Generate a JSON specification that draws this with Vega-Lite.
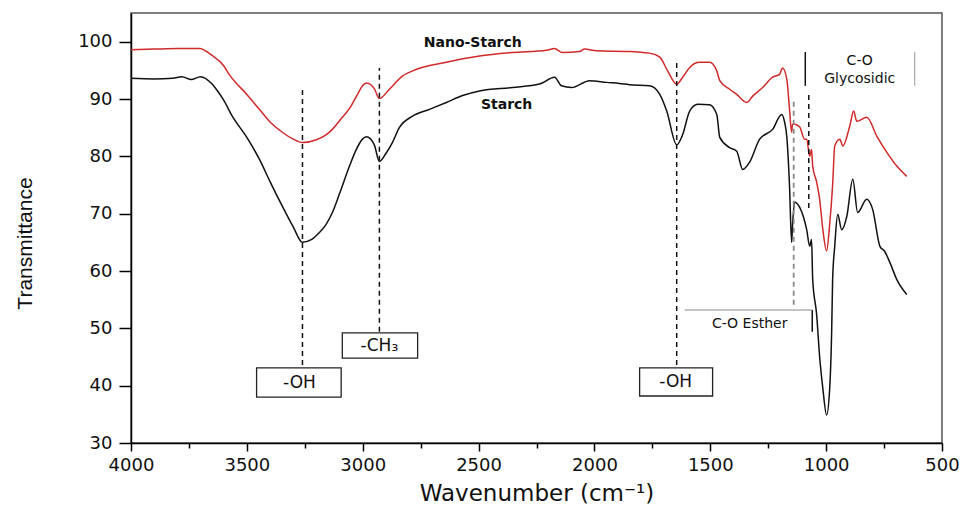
{
  "$schema": "https://vega.github.io/schema/vega-lite/v6.json",
  "width": 811,
  "height": 430,
  "autosize": "none",
  "padding": {"left": 131, "top": 13, "right": 22, "bottom": 66},
  "background": "white",
  "config": {
    "view": {"stroke": "#555", "strokeWidth": 1.5},
    "font": "DejaVu Sans"
  },
  "datasets": {
    "spectra": [
      {"wn": 4000, "t": 93.6, "s": "Starch"}, {"wn": 3900, "t": 93.5, "s": "Starch"}, {"wn": 3820, "t": 93.6, "s": "Starch"},
      {"wn": 3780, "t": 93.9, "s": "Starch"}, {"wn": 3740, "t": 93.4, "s": "Starch"}, {"wn": 3700, "t": 93.9, "s": "Starch"},
      {"wn": 3650, "t": 92.6, "s": "Starch"}, {"wn": 3632, "t": 91.7, "s": "Starch"}, {"wn": 3600, "t": 89.8, "s": "Starch"},
      {"wn": 3563, "t": 87.0, "s": "Starch"}, {"wn": 3500, "t": 83.3, "s": "Starch"},
      {"wn": 3446, "t": 79.5, "s": "Starch"}, {"wn": 3400, "t": 75.6, "s": "Starch"}, {"wn": 3347, "t": 71.3, "s": "Starch"}, {"wn": 3300, "t": 67.7, "s": "Starch"},
      {"wn": 3260, "t": 65.0, "s": "Starch"}, {"wn": 3220, "t": 65.5, "s": "Starch"}, {"wn": 3187, "t": 66.7, "s": "Starch"}, {"wn": 3160, "t": 68.0, "s": "Starch"},
      {"wn": 3131, "t": 70.2, "s": "Starch"}, {"wn": 3100, "t": 73.5, "s": "Starch"},
      {"wn": 3057, "t": 78.3, "s": "Starch"}, {"wn": 3030, "t": 81.0, "s": "Starch"}, {"wn": 3001, "t": 83.0, "s": "Starch"}, {"wn": 2984, "t": 83.4, "s": "Starch"},
      {"wn": 2950, "t": 82.0, "s": "Starch"}, {"wn": 2928, "t": 79.1, "s": "Starch"}, {"wn": 2900, "t": 80.5, "s": "Starch"},
      {"wn": 2872, "t": 82.4, "s": "Starch"}, {"wn": 2842, "t": 85.0, "s": "Starch"}, {"wn": 2785, "t": 87.0, "s": "Starch"},
      {"wn": 2712, "t": 88.2, "s": "Starch"}, {"wn": 2639, "t": 89.4, "s": "Starch"}, {"wn": 2569, "t": 90.6, "s": "Starch"},
      {"wn": 2496, "t": 91.4, "s": "Starch"}, {"wn": 2354, "t": 92.0, "s": "Starch"}, {"wn": 2237, "t": 92.6, "s": "Starch"},
      {"wn": 2172, "t": 93.8, "s": "Starch"}, {"wn": 2142, "t": 92.3, "s": "Starch"}, {"wn": 2099, "t": 92.0, "s": "Starch"},
      {"wn": 2021, "t": 93.2, "s": "Starch"}, {"wn": 1948, "t": 92.9, "s": "Starch"}, {"wn": 1892, "t": 92.7, "s": "Starch"},
      {"wn": 1849, "t": 92.5, "s": "Starch"}, {"wn": 1762, "t": 92.3, "s": "Starch"}, {"wn": 1718, "t": 90.8, "s": "Starch"},
      {"wn": 1688, "t": 87.9, "s": "Starch"}, {"wn": 1645, "t": 82.0, "s": "Starch"}, {"wn": 1619, "t": 83.8, "s": "Starch"},
      {"wn": 1589, "t": 87.9, "s": "Starch"}, {"wn": 1554, "t": 89.1, "s": "Starch"}, {"wn": 1503, "t": 89.0, "s": "Starch"},
      {"wn": 1472, "t": 87.3, "s": "Starch"}, {"wn": 1459, "t": 83.3, "s": "Starch"}, {"wn": 1416, "t": 81.5, "s": "Starch"},
      {"wn": 1386, "t": 80.9, "s": "Starch"}, {"wn": 1360, "t": 77.7, "s": "Starch"}, {"wn": 1330, "t": 79.0, "s": "Starch"},
      {"wn": 1287, "t": 83.0, "s": "Starch"}, {"wn": 1231, "t": 84.7, "s": "Starch"}, {"wn": 1192, "t": 87.3, "s": "Starch"},
      {"wn": 1179, "t": 85.9, "s": "Starch"}, {"wn": 1170, "t": 83.5, "s": "Starch"}, {"wn": 1158, "t": 74.8, "s": "Starch"},
      {"wn": 1149, "t": 65.0, "s": "Starch"}, {"wn": 1145, "t": 68.0, "s": "Starch"}, {"wn": 1136, "t": 72.0, "s": "Starch"},
      {"wn": 1114, "t": 71.1, "s": "Starch"}, {"wn": 1084, "t": 67.2, "s": "Starch"}, {"wn": 1071, "t": 64.3, "s": "Starch"},
      {"wn": 1063, "t": 65.5, "s": "Starch"}, {"wn": 1058, "t": 58.5, "s": "Starch"}, {"wn": 1041, "t": 52.4, "s": "Starch"},
      {"wn": 1028, "t": 45.0, "s": "Starch"}, {"wn": 1015, "t": 39.8, "s": "Starch"}, {"wn": 998, "t": 34.9, "s": "Starch"},
      {"wn": 985, "t": 39.3, "s": "Starch"}, {"wn": 976, "t": 49.8, "s": "Starch"}, {"wn": 972, "t": 58.5, "s": "Starch"},
      {"wn": 963, "t": 64.3, "s": "Starch"}, {"wn": 950, "t": 69.9, "s": "Starch"}, {"wn": 933, "t": 67.2, "s": "Starch"},
      {"wn": 911, "t": 69.5, "s": "Starch"}, {"wn": 885, "t": 76.0, "s": "Starch"}, {"wn": 864, "t": 70.2, "s": "Starch"},
      {"wn": 825, "t": 72.5, "s": "Starch"}, {"wn": 799, "t": 70.7, "s": "Starch"}, {"wn": 768, "t": 64.3, "s": "Starch"},
      {"wn": 747, "t": 63.4, "s": "Starch"}, {"wn": 725, "t": 61.5, "s": "Starch"}, {"wn": 695, "t": 58.5, "s": "Starch"},
      {"wn": 652, "t": 55.9, "s": "Starch"},
      {"wn": 4000, "t": 98.6, "s": "Nano-Starch"}, {"wn": 3900, "t": 98.7, "s": "Nano-Starch"}, {"wn": 3800, "t": 98.8, "s": "Nano-Starch"},
      {"wn": 3705, "t": 98.8, "s": "Nano-Starch"}, {"wn": 3650, "t": 97.6, "s": "Nano-Starch"}, {"wn": 3600, "t": 95.8, "s": "Nano-Starch"},
      {"wn": 3575, "t": 94.2, "s": "Nano-Starch"}, {"wn": 3500, "t": 90.8, "s": "Nano-Starch"},
      {"wn": 3446, "t": 88.2, "s": "Nano-Starch"}, {"wn": 3400, "t": 86.0, "s": "Nano-Starch"}, {"wn": 3347, "t": 84.2, "s": "Nano-Starch"},
      {"wn": 3300, "t": 83.0, "s": "Nano-Starch"}, {"wn": 3260, "t": 82.4, "s": "Nano-Starch"},
      {"wn": 3200, "t": 82.9, "s": "Nano-Starch"}, {"wn": 3160, "t": 83.7, "s": "Nano-Starch"}, {"wn": 3131, "t": 84.7, "s": "Nano-Starch"},
      {"wn": 3100, "t": 86.2, "s": "Nano-Starch"}, {"wn": 3050, "t": 88.8, "s": "Nano-Starch"}, {"wn": 3020, "t": 91.0, "s": "Nano-Starch"},
      {"wn": 3001, "t": 92.3, "s": "Nano-Starch"}, {"wn": 2984, "t": 92.8, "s": "Nano-Starch"}, {"wn": 2950, "t": 91.8, "s": "Nano-Starch"},
      {"wn": 2928, "t": 90.1, "s": "Nano-Starch"}, {"wn": 2885, "t": 91.7, "s": "Nano-Starch"}, {"wn": 2829, "t": 94.0, "s": "Nano-Starch"},
      {"wn": 2785, "t": 94.9, "s": "Nano-Starch"}, {"wn": 2639, "t": 96.4, "s": "Nano-Starch"}, {"wn": 2496, "t": 97.5, "s": "Nano-Starch"},
      {"wn": 2354, "t": 98.1, "s": "Nano-Starch"}, {"wn": 2207, "t": 98.5, "s": "Nano-Starch"}, {"wn": 2172, "t": 98.8, "s": "Nano-Starch"},
      {"wn": 2138, "t": 98.1, "s": "Nano-Starch"}, {"wn": 2064, "t": 98.3, "s": "Nano-Starch"}, {"wn": 2043, "t": 98.7, "s": "Nano-Starch"},
      {"wn": 1991, "t": 98.4, "s": "Nano-Starch"}, {"wn": 1849, "t": 98.3, "s": "Nano-Starch"}, {"wn": 1762, "t": 98.0, "s": "Nano-Starch"},
      {"wn": 1718, "t": 97.3, "s": "Nano-Starch"}, {"wn": 1684, "t": 94.9, "s": "Nano-Starch"}, {"wn": 1645, "t": 92.6, "s": "Nano-Starch"},
      {"wn": 1619, "t": 93.8, "s": "Nano-Starch"}, {"wn": 1589, "t": 95.5, "s": "Nano-Starch"}, {"wn": 1546, "t": 96.4, "s": "Nano-Starch"},
      {"wn": 1503, "t": 96.4, "s": "Nano-Starch"}, {"wn": 1472, "t": 94.9, "s": "Nano-Starch"}, {"wn": 1459, "t": 93.2, "s": "Nano-Starch"},
      {"wn": 1416, "t": 91.7, "s": "Nano-Starch"}, {"wn": 1386, "t": 90.8, "s": "Nano-Starch"}, {"wn": 1343, "t": 89.4, "s": "Nano-Starch"},
      {"wn": 1317, "t": 90.5, "s": "Nano-Starch"}, {"wn": 1274, "t": 92.0, "s": "Nano-Starch"}, {"wn": 1231, "t": 93.8, "s": "Nano-Starch"},
      {"wn": 1201, "t": 94.3, "s": "Nano-Starch"}, {"wn": 1188, "t": 95.4, "s": "Nano-Starch"}, {"wn": 1170, "t": 93.5, "s": "Nano-Starch"},
      {"wn": 1158, "t": 88.2, "s": "Nano-Starch"}, {"wn": 1149, "t": 84.2, "s": "Nano-Starch"}, {"wn": 1145, "t": 85.6, "s": "Nano-Starch"},
      {"wn": 1136, "t": 85.6, "s": "Nano-Starch"}, {"wn": 1114, "t": 85.1, "s": "Nano-Starch"}, {"wn": 1093, "t": 83.0, "s": "Nano-Starch"},
      {"wn": 1084, "t": 83.0, "s": "Nano-Starch"}, {"wn": 1071, "t": 80.0, "s": "Nano-Starch"}, {"wn": 1063, "t": 81.2, "s": "Nano-Starch"},
      {"wn": 1058, "t": 78.3, "s": "Nano-Starch"}, {"wn": 1041, "t": 75.5, "s": "Nano-Starch"}, {"wn": 1028, "t": 72.5, "s": "Nano-Starch"},
      {"wn": 1015, "t": 67.5, "s": "Nano-Starch"}, {"wn": 998, "t": 63.5, "s": "Nano-Starch"}, {"wn": 985, "t": 68.0, "s": "Nano-Starch"},
      {"wn": 972, "t": 75.0, "s": "Nano-Starch"}, {"wn": 963, "t": 81.8, "s": "Nano-Starch"}, {"wn": 941, "t": 83.0, "s": "Nano-Starch"},
      {"wn": 928, "t": 81.8, "s": "Nano-Starch"}, {"wn": 898, "t": 85.3, "s": "Nano-Starch"}, {"wn": 881, "t": 87.9, "s": "Nano-Starch"},
      {"wn": 868, "t": 86.1, "s": "Nano-Starch"}, {"wn": 825, "t": 86.8, "s": "Nano-Starch"}, {"wn": 781, "t": 83.5, "s": "Nano-Starch"},
      {"wn": 738, "t": 80.7, "s": "Nano-Starch"}, {"wn": 695, "t": 78.3, "s": "Nano-Starch"}, {"wn": 652, "t": 76.5, "s": "Nano-Starch"}
    ],
    "dashBlack": [
      {"wn": 3260, "y1": 43.6, "y2": 91.8},
      {"wn": 2928, "y1": 49.4, "y2": 95.4},
      {"wn": 1645, "y1": 43.6, "y2": 96.7},
      {"wn": 1075, "y1": 71.0, "y2": 91.4}
    ],
    "dashGray": [
      {"wn": 1140, "y1": 54.1, "y2": 89.6}
    ],
    "solidBlack": [
      {"wn": 1090, "y1": 92.3, "y2": 98.2},
      {"wn": 1060, "y1": 49.4, "y2": 53.2}
    ],
    "solidGray": [
      {"wn": 618, "y1": 92.3, "y2": 98.2}
    ],
    "hline": [
      {"wn1": 1611, "wn2": 1060, "y": 53.2}
    ],
    "boxes": [
      {"x1": 3458, "x2": 3093, "y1": 38.0, "y2": 43.1, "cx": 3273, "cy": 40.5, "label": "-OH"},
      {"x1": 3088, "x2": 2763, "y1": 44.8, "y2": 49.2, "cx": 2928, "cy": 47.0, "label": "-CH₃"},
      {"x1": 1805, "x2": 1490, "y1": 38.2, "y2": 43.1, "cx": 1649, "cy": 40.6, "label": "-OH"}
    ],
    "curveLabels": [
      {"wn": 2525, "t": 99.8, "label": "Nano-Starch"},
      {"wn": 2379, "t": 89.0, "label": "Starch"}
    ],
    "annoLabels": [
      {"wn": 1330, "t": 50.8, "label": "C-O Esther"},
      {"wn": 855, "t": 96.7, "label": "C-O"},
      {"wn": 855, "t": 93.5, "label": "Glycosidic"}
    ]
  },
  "layer": [
    {
      "data": {"name": "spectra"},
      "mark": {"type": "line", "strokeWidth": 1.5, "interpolate": "monotone"},
      "encoding": {
        "x": {
          "field": "wn", "type": "quantitative",
          "scale": {"domain": [500, 4000], "reverse": true, "nice": false, "zero": false},
          "axis": {
            "title": "Wavenumber (cm⁻¹)",
            "values": [4000, 3750, 3500, 3250, 3000, 2750, 2500, 2250, 2000, 1750, 1500, 1250, 1000, 750, 500],
            "labelExpr": "datum.value % 500 === 0 ? datum.label : ''",
            "format": "d",
            "grid": false,
            "domainColor": "#000", "domainWidth": 1.5,
            "tickColor": "#000", "tickWidth": 1.5,
            "tickSize": {"condition": {"test": "datum.value % 500 === 0", "value": 8}, "value": 5},
            "labelFont": "DejaVu Sans", "labelFontSize": 18, "labelColor": "#111",
            "labelPadding": 5,
            "labelFlush": false,
            "titleFont": "DejaVu Sans", "titleFontSize": 23, "titleFontWeight": "normal", "titleColor": "#111",
            "titleY": 50, "titleBaseline": "middle"
          }
        },
        "y": {
          "field": "t", "type": "quantitative",
          "scale": {"domain": [30, 105], "nice": false, "zero": false},
          "axis": {
            "title": "Transmittance",
            "values": [30, 35, 40, 45, 50, 55, 60, 65, 70, 75, 80, 85, 90, 95, 100],
            "labelExpr": "datum.value % 10 === 0 ? datum.label : ''",
            "grid": false,
            "domainColor": "#000", "domainWidth": 1.5,
            "tickColor": "#000", "tickWidth": 1.5,
            "tickSize": {"condition": {"test": "datum.value % 10 === 0", "value": 12}, "value": 6},
            "labelFont": "DejaVu Sans", "labelFontSize": 18, "labelColor": "#111",
            "labelPadding": 7,
            "labelFlush": false,
            "titleFont": "Liberation Sans", "titleFontSize": 21, "titleFontWeight": "normal", "titleColor": "#111",
            "titleX": -106, "titleY": 230, "titleAngle": -90, "titleAlign": "center", "titleBaseline": "middle"
          }
        },
        "color": {
          "field": "s", "type": "nominal",
          "scale": {"domain": ["Nano-Starch", "Starch"], "range": ["#d02a2a", "#111111"]},
          "legend": null
        }
      }
    },
    {
      "data": {"name": "dashBlack"},
      "mark": {"type": "rule", "color": "#111", "strokeWidth": 1.5, "strokeDash": [5, 4]},
      "encoding": {
        "x": {"field": "wn", "type": "quantitative"},
        "y": {"field": "y1", "type": "quantitative"},
        "y2": {"field": "y2"}
      }
    },
    {
      "data": {"name": "dashGray"},
      "mark": {"type": "rule", "color": "#888", "strokeWidth": 1.8, "strokeDash": [5, 4]},
      "encoding": {
        "x": {"field": "wn", "type": "quantitative"},
        "y": {"field": "y1", "type": "quantitative"},
        "y2": {"field": "y2"}
      }
    },
    {
      "data": {"name": "solidBlack"},
      "mark": {"type": "rule", "color": "#111", "strokeWidth": 1.5},
      "encoding": {
        "x": {"field": "wn", "type": "quantitative"},
        "y": {"field": "y1", "type": "quantitative"},
        "y2": {"field": "y2"}
      }
    },
    {
      "data": {"name": "solidGray"},
      "mark": {"type": "rule", "color": "#aaa", "strokeWidth": 1.2},
      "encoding": {
        "x": {"field": "wn", "type": "quantitative"},
        "y": {"field": "y1", "type": "quantitative"},
        "y2": {"field": "y2"}
      }
    },
    {
      "data": {"name": "hline"},
      "mark": {"type": "rule", "color": "#888", "strokeWidth": 1.2},
      "encoding": {
        "x": {"field": "wn1", "type": "quantitative"},
        "x2": {"field": "wn2"},
        "y": {"field": "y", "type": "quantitative"}
      }
    },
    {
      "data": {"name": "boxes"},
      "mark": {"type": "rect", "fill": "white", "stroke": "#222", "strokeWidth": 1.3},
      "encoding": {
        "x": {"field": "x1", "type": "quantitative"},
        "x2": {"field": "x2"},
        "y": {"field": "y1", "type": "quantitative"},
        "y2": {"field": "y2"}
      }
    },
    {
      "data": {"name": "boxes"},
      "mark": {"type": "text", "font": "DejaVu Sans", "fontSize": 17, "color": "#111", "align": "center", "baseline": "middle"},
      "encoding": {
        "x": {"field": "cx", "type": "quantitative"},
        "y": {"field": "cy", "type": "quantitative"},
        "text": {"field": "label"}
      }
    },
    {
      "data": {"name": "curveLabels"},
      "mark": {"type": "text", "font": "DejaVu Sans", "fontSize": 14, "fontWeight": "bold", "color": "#111", "align": "center", "baseline": "middle"},
      "encoding": {
        "x": {"field": "wn", "type": "quantitative"},
        "y": {"field": "t", "type": "quantitative"},
        "text": {"field": "label"}
      }
    },
    {
      "data": {"name": "annoLabels"},
      "mark": {"type": "text", "font": "DejaVu Sans", "fontSize": 14, "color": "#111", "align": "center", "baseline": "middle"},
      "encoding": {
        "x": {"field": "wn", "type": "quantitative"},
        "y": {"field": "t", "type": "quantitative"},
        "text": {"field": "label"}
      }
    }
  ]
}
